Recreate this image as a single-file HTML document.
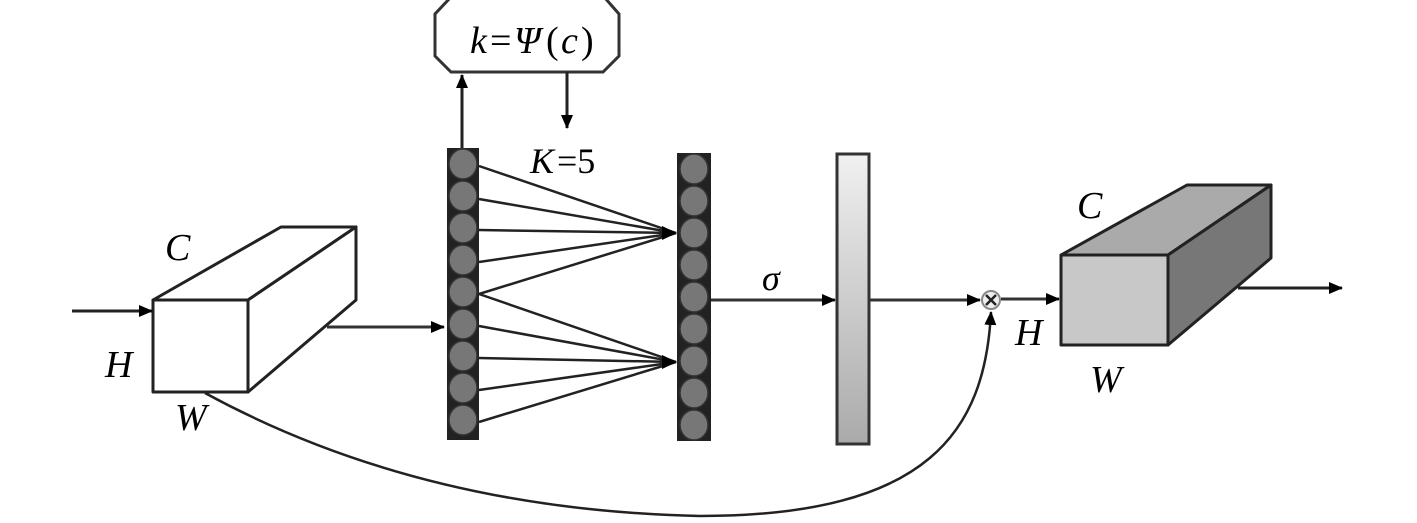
<!DOCTYPE html>
<html><head><style>
html,body{margin:0;padding:0;background:#fff;}
svg text{font-family:"Liberation Serif",serif;font-style:italic;fill:#000;}
</style></head><body>
<svg width="1417" height="518" viewBox="0 0 1417 518" xmlns="http://www.w3.org/2000/svg">
<defs>
<marker id="a" markerWidth="10" markerHeight="10" refX="9" refY="5" orient="auto" markerUnits="userSpaceOnUse">
<path d="M0,0 L10,5 L0,10 z" fill="#000"/></marker>
<marker id="b" markerWidth="14" markerHeight="14" refX="13" refY="7" orient="auto" markerUnits="userSpaceOnUse">
<path d="M0,1 L14,7 L0,13 z" fill="#000"/></marker>
<linearGradient id="g" x1="0" y1="0" x2="0" y2="1"><stop offset="0" stop-color="#f0f0f0"/><stop offset="1" stop-color="#aaa"/></linearGradient>
</defs>
<!-- octagon -->
<path d="M450,-2 L605,-2 L619,14 L619,56 L603,72 L451,72 L435,56 L435,14 Z" fill="#fff" stroke="#333" stroke-width="3"/>
<text x="470" y="53" font-size="38">k</text><text x="490" y="53" font-size="38" style="font-style:normal">=</text><text x="514" y="53" font-size="38">Ψ</text><text x="546" y="53" font-size="38" style="font-style:normal">(</text><text x="561" y="53" font-size="38">c</text><text x="581" y="53" font-size="38" style="font-style:normal">)</text>
<line x1="462" y1="148" x2="462" y2="75" stroke="#222" stroke-width="3" marker-end="url(#b)"/>
<line x1="567" y1="72" x2="567" y2="128" stroke="#222" stroke-width="3" marker-end="url(#b)"/>
<text x="530" y="173" font-size="36">K</text><text x="557" y="173" font-size="36" style="font-style:normal">=5</text>
<!-- left box -->
<g fill="#fff" stroke="#222" stroke-width="3" stroke-linejoin="round">
<path d="M153,300 L281,227 L356,227 L248,300 Z"/>
<path d="M248,300 L356,227 L356,300 L248,392 Z"/>
<rect x="153" y="300" width="95" height="92"/>
</g>
<line x1="72" y1="311" x2="152" y2="311" stroke="#222" stroke-width="3" marker-end="url(#b)"/>
<line x1="327" y1="327" x2="444" y2="327" stroke="#333" stroke-width="3" marker-end="url(#b)"/>
<text x="165" y="260" font-size="38">C</text>
<text x="105" y="377" font-size="38">H</text>
<text x="175" y="430" font-size="38">W</text>
<!-- columns -->
<rect x="447" y="148" width="32" height="292" fill="#222"/>
<g fill="#777" stroke="#333" stroke-width="1.5">
<ellipse cx="463" cy="164" rx="14" ry="15"/><ellipse cx="463" cy="196" rx="14" ry="15"/><ellipse cx="463" cy="228" rx="14" ry="15"/><ellipse cx="463" cy="260" rx="14" ry="15"/><ellipse cx="463" cy="292" rx="14" ry="15"/><ellipse cx="463" cy="324" rx="14" ry="15"/><ellipse cx="463" cy="356" rx="14" ry="15"/><ellipse cx="463" cy="388" rx="14" ry="15"/><ellipse cx="463" cy="420" rx="14" ry="15"/>
</g>
<rect x="677" y="153" width="34" height="288" fill="#222"/>
<g fill="#777" stroke="#333" stroke-width="1.5">
<ellipse cx="694" cy="169" rx="14" ry="15"/><ellipse cx="694" cy="201" rx="14" ry="15"/><ellipse cx="694" cy="233" rx="14" ry="15"/><ellipse cx="694" cy="265" rx="14" ry="15"/><ellipse cx="694" cy="297" rx="14" ry="15"/><ellipse cx="694" cy="329" rx="14" ry="15"/><ellipse cx="694" cy="361" rx="14" ry="15"/><ellipse cx="694" cy="393" rx="14" ry="15"/><ellipse cx="694" cy="425" rx="14" ry="15"/>
</g>
<g stroke="#222" stroke-width="2.5">
<line x1="479" y1="166" x2="676" y2="233"/><line x1="479" y1="199" x2="676" y2="233"/><line x1="479" y1="230" x2="676" y2="233"/><line x1="479" y1="262" x2="676" y2="233"/><line x1="479" y1="294" x2="676" y2="233"/>
<line x1="479" y1="294" x2="676" y2="362"/><line x1="479" y1="326" x2="676" y2="362"/><line x1="479" y1="358" x2="676" y2="362"/><line x1="479" y1="390" x2="676" y2="362"/><line x1="479" y1="422" x2="676" y2="362"/>
</g>
<path d="M662,226 L677,233 L662,240 Z" fill="#000"/>
<path d="M662,355 L677,362 L662,369 Z" fill="#000"/>
<!-- sigma -->
<text x="762" y="290" font-size="36">σ</text>
<line x1="711" y1="300" x2="835" y2="300" stroke="#333" stroke-width="3" marker-end="url(#b)"/>
<rect x="837" y="154" width="32" height="290" fill="url(#g)" stroke="#333" stroke-width="3"/>
<line x1="870" y1="300" x2="980" y2="300" stroke="#333" stroke-width="3" marker-end="url(#b)"/>
<circle cx="991" cy="300" r="9" fill="#eee" stroke="#888" stroke-width="2"/>
<path d="M986,295 L996,305 M996,295 L986,305" stroke="#222" stroke-width="2.5"/>
<line x1="1001" y1="299" x2="1059" y2="299" stroke="#333" stroke-width="3" marker-end="url(#b)"/>
<path d="M205,393 Q 420,510 700,516 C 930,516 985,430 991,312" fill="none" stroke="#222" stroke-width="2.5" marker-end="url(#b)"/>
<!-- right box -->
<g stroke="#222" stroke-width="3" stroke-linejoin="round">
<path d="M1061,255 L1187,185 L1271,185 L1168,255 Z" fill="#aaa"/>
<path d="M1168,255 L1271,185 L1271,258 L1168,345 Z" fill="#777"/>
<rect x="1061" y="255" width="107" height="90" fill="#c8c8c8"/>
</g>
<line x1="1238" y1="288" x2="1342" y2="288" stroke="#222" stroke-width="3" marker-end="url(#b)"/>
<text x="1077" y="218" font-size="38">C</text>
<text x="1015" y="345" font-size="38">H</text>
<text x="1090" y="392" font-size="38">W</text>
</svg>
</body></html>
